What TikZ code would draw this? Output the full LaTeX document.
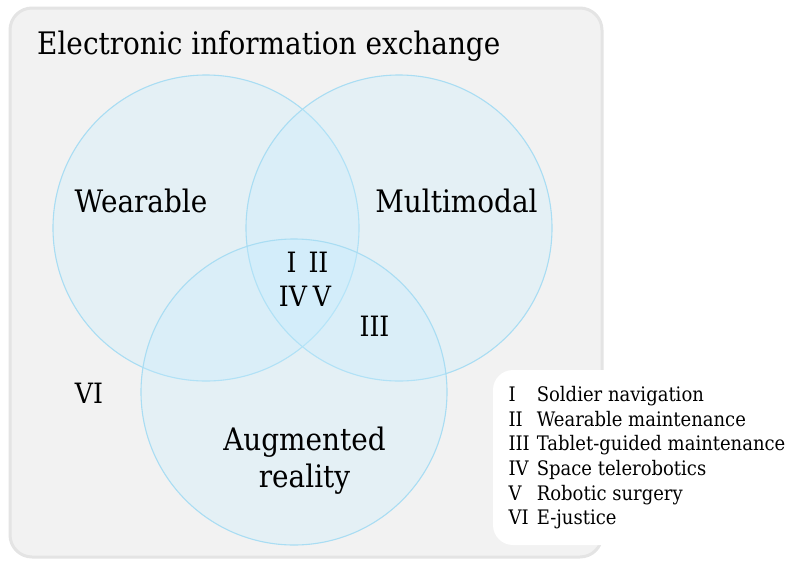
\documentclass[tikz,border=0pt]{standalone}
\usepackage{fontspec}
\setmainfont{DejaVu Serif}[FakeStretch=0.9]
\usetikzlibrary{positioning}
\definecolor{panelgray}{HTML}{F2F2F2}
\definecolor{panelline}{HTML}{E4E4E4}
\definecolor{setline}{HTML}{A9DDF3}
\definecolor{setfill}{HTML}{C4ECFF}

\begin{document}
\begin{tikzpicture}[x=1pt,y=-1pt]
	\tikzstyle{setcircle}=[circle,draw=setline,fill=setfill,fill opacity=0.3,line width=1.1pt,minimum size=306pt,inner sep=0pt]
	\tikzstyle{label}=[font=\fontsize{31}{37}\selectfont,inner sep=0pt,anchor=base]
	\tikzstyle{roman}=[font=\fontsize{28}{34}\selectfont,inner sep=0pt,anchor=base]
	\useasboundingbox (0,0) rectangle (790,560);
		\draw[panelline,fill=panelgray,line width=3pt,rounded corners=22pt] (10,8) rectangle (602,557);
		\node[label,anchor=base west] (title) at (37,54.3) {Electronic information exchange};
		\node[setcircle] (wear) at (206,228) {};
		\node[setcircle] (multi) at (399,228) {};
		\node[setcircle] (aug) at (294,392) {};
		\node[label] (wlab) at (141,212) {Wearable};
		\node[label] (mlab) at (456.5,212) {Multimodal};
		\node[label] (alab) at (304.5,450) {Augmented};
		\node[label] (alab2) at (304.5,487) {reality};
		\node[roman] (r12) at (307.5,272.7) {I\hspace{12pt}II};
		\node[roman] (r45) at (305,306) {IV\hspace{6pt}V};
		\node[roman] (r3) at (374.5,336.7) {III};
		\node[roman] (r6) at (89,403) {VI};
		\fill[white,rounded corners=20pt] (493,370) rectangle (830,545);
		\node[anchor=base west,inner sep=0pt,font=\fontsize{20}{24.6}\selectfont] (legend) at (508.3,401.7) {%
			\begin{tabular}[t]{@{}l@{\hspace{7pt}}l@{}}
			I & Soldier navigation\\
			II & Wearable maintenance\\
			III & Tablet-guided maintenance\\
			IV & Space telerobotics\\
			V & Robotic surgery\\
			VI & E-justice
			\end{tabular}};
\end{tikzpicture}
\end{document}
